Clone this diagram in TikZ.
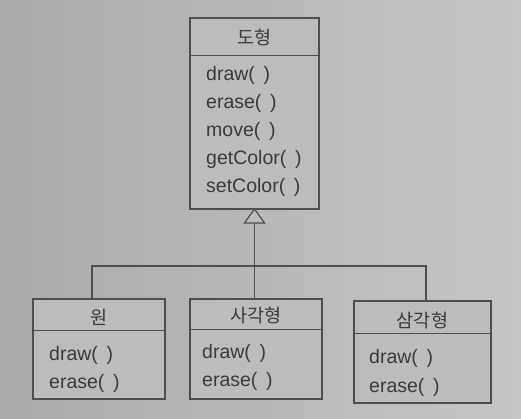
\documentclass[tikz,border=0pt]{standalone}
\usepackage{fontspec}
\setmainfont{Liberation Sans}
\newfontfamily\kr{Noto Sans CJK KR}
\usetikzlibrary{calc}
\definecolor{bgL}{RGB}{170,170,170}
\definecolor{bgR}{RGB}{198,198,198}
\definecolor{boxfill}{RGB}{188,188,188}
\definecolor{ln}{RGB}{78,78,78}
\definecolor{tx}{RGB}{58,58,58}
\begin{document}
\begin{tikzpicture}[x=1pt,y=-1pt,
  classbox/.style={draw=ln, line width=1.2pt, fill=boxfill, rectangle, inner sep=0pt},
  titletext/.style={text=tx, font=\kr\fontsize{18.5}{20}\selectfont, inner sep=0pt},
  meth/.style={text=tx, font=\fontsize{19.5}{22}\selectfont, anchor=west, inner sep=0pt, text height=14pt, text depth=4pt},
  conn/.style={draw=ln, line width=1.2pt}]
\useasboundingbox (0,0) rectangle (521,418);
\shade[left color=bgL, right color=bgR] (0,0) rectangle (521,418);

% top class
\node[classbox, minimum width=129pt, minimum height=191pt] (shape) at (254.5,113.5) {};
\draw[conn] ([yshift=-38pt]shape.north west) -- ([yshift=-38pt]shape.north east);
\node[titletext] (shapeT) at (254.5,37) {도형};
\node[meth] (m1) at (206,75) {draw(\ \,)};
\node[meth] (m2) at (206,103) {erase(\ \,)};
\node[meth] (m3) at (206,131) {move(\ \,)};
\node[meth] (m4) at (206,159) {getColor(\ \,)};
\node[meth] (m5) at (206,187) {setColor(\ \,)};

% subclasses
\node[classbox, minimum width=132pt, minimum height=100pt] (circ) at (99,349) {};
\draw[conn] ([yshift=-32pt]circ.north west) -- ([yshift=-32pt]circ.north east);
\node[titletext] (circT) at (99,317) {원};
\node[meth] (c1) at (49,355) {draw(\ \,)};
\node[meth] (c2) at (49,383) {erase(\ \,)};

\node[classbox, minimum width=132pt, minimum height=100pt] (rect) at (256,349) {};
\draw[conn] ([yshift=-31pt]rect.north west) -- ([yshift=-31pt]rect.north east);
\node[titletext] (rectT) at (256,315) {사각형};
\node[meth] (r1) at (202,353) {draw(\ \,)};
\node[meth] (r2) at (202,381) {erase(\ \,)};

\node[classbox, minimum width=137pt, minimum height=102pt] (tri) at (422.5,352) {};
\draw[conn] ([yshift=-33pt]tri.north west) -- ([yshift=-33pt]tri.north east);
\node[titletext] (triT) at (422.5,320) {삼각형};
\node[meth] (t1) at (369,358) {draw(\ \,)};
\node[meth] (t2) at (369,387) {erase(\ \,)};

% generalization
\coordinate (apex) at (254.5,209);
\coordinate (base) at (254.5,223);
\draw[conn, fill=boxfill] (apex) -- ++(-10,14) -- ++(20,0) -- cycle;
\coordinate (bar) at (254.5,266);
\coordinate (cL) at ($(circ.north)+(-7,0)$);
\coordinate (tR) at ($(tri.north)+(3.5,0)$);
\draw[conn] (base) -- (base |- rect.north);
\draw[conn] (cL) |- (bar) -| (tR);
\end{tikzpicture}
\end{document}
